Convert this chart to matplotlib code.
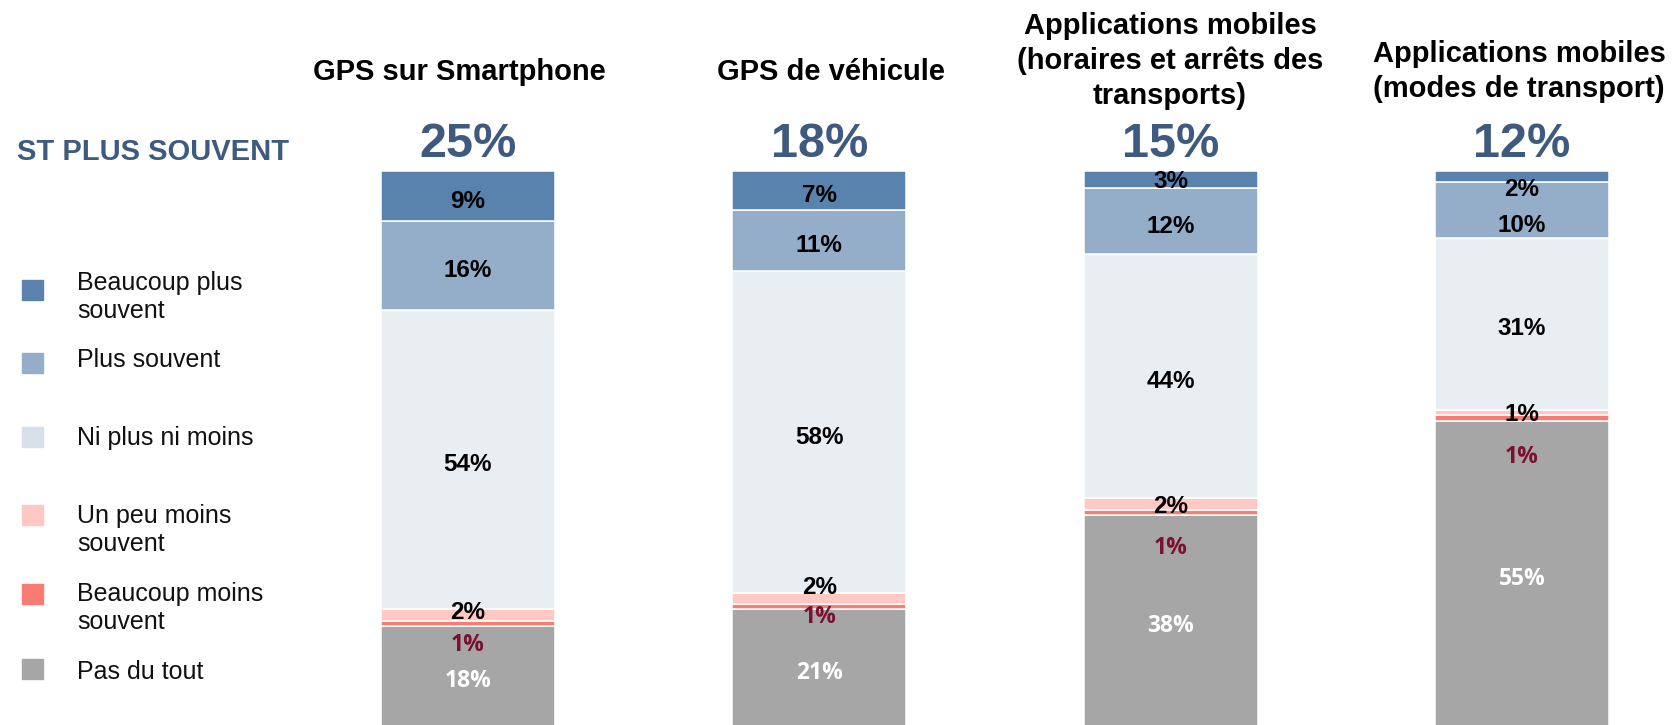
import numpy as np
import matplotlib
matplotlib.use("Agg")
import matplotlib.pyplot as plt
from matplotlib.patches import Rectangle

plt.rcParams['font.family'] = ['Liberation Sans', 'DejaVu Sans']

# data, one list per answer (top of bar first), one value per item
titles = ["GPS sur Smartphone", "GPS de véhicule",
          "Applications mobiles\n(horaires et arrêts des\ntransports)",
          "Applications mobiles\n(modes de transport)"]
totals = ["25%", "18%", "15%", "12%"]
beaucoup_plus = [9, 7, 3, 2]
plus = [16, 11, 12, 10]
ni_plus_ni_moins = [54, 58, 44, 31]
un_peu_moins = [2, 2, 2, 1]
beaucoup_moins = [1, 1, 1, 1]
pas_du_tout = [18, 21, 38, 55]
legend_labels = ["Beaucoup plus\nsouvent", "Plus souvent", "Ni plus ni moins",
                 "Un peu moins\nsouvent", "Beaucoup moins\nsouvent", "Pas du tout"]

W, H = 1672, 725
colors = ['#5983AD', '#94AECA', '#E9EEF3', '#FFC8C3', '#F97B71', '#A6A6A6']
legend_colors = ['#5983AD', '#94AECA', '#D6DFEA', '#FFC8C3', '#F97B71', '#A6A6A6']
label_colors = ['black', 'black', 'black', 'black', '#7B1030', 'white']
head_color = '#3E5A7E'

series = [beaucoup_plus, plus, ni_plus_ni_moins, un_peu_moins, beaucoup_moins, pas_du_tout]

fig = plt.figure(figsize=(W / 100, H / 100), dpi=100)
ax = fig.add_axes([0, 0, 1, 1])
ax.axis('off')

# pixel layout: bar centres at 468 + 351.3*i, 5.55 px per %, bar top at y=171
px_c0, px_step, px_per = 468, 351.3, 5.55
ax.set_xlim(-px_c0 / px_step, (W - px_c0) / px_step)
top_val = 100 + 171 / px_per
bot_val = -(H - (171 + 100 * px_per)) / px_per
ax.set_ylim(bot_val, top_val)


def fy(y):
    return 1 - y / H


def cap_half(pt):
    # half cap height in data units for a font size in points
    return 0.716 * pt * 100 / 72 / 2 / px_per


x = np.arange(len(titles))
# stack from the bottom: gray first
bottom = np.zeros(len(titles))
bottoms = [None] * 6
for k in range(5, -1, -1):
    ax.bar(x, series[k], bottom=bottom, width=0.495, color=colors[k],
           edgecolor='white', linewidth=1.1)
    bottoms[k] = bottom.copy()
    bottom = bottom + np.array(series[k])

# label nudges in pixels (down positive) for crowded thin segments
nudge = {(0, 3): -8, (0, 4): 16,
         (1, 3): -16, (1, 4): 5,
         (2, 0): -3, (2, 3): -3, (2, 4): 30,
         (3, 0): 8, (3, 1): 10, (3, 3): -3, (3, 4): 34}

for i in range(len(titles)):
    for k in range(6):
        v = series[k][i]
        yc = bottoms[k][i] + v / 2 - (3 + nudge.get((i, k), 0)) / px_per
        if k >= 4:
            fs = 16.5
            ax.text(x[i], yc - cap_half(fs), f"{v}%", ha='center', va='baseline',
                    color=label_colors[k], fontsize=fs, fontweight='bold',
                    family=['Open Sans', 'DejaVu Sans'])
        else:
            fs = 17.5
            ax.text(x[i], yc - cap_half(fs), f"{v}%", ha='center', va='baseline',
                    color=label_colors[k], fontsize=fs, fontweight='bold')
    ax.text(x[i], 100 + (171 - 157) / px_per, totals[i], ha='center', va='baseline',
            color=head_color, fontsize=35, fontweight='bold')

# titles above bars (x centre, last-line baseline in px)
title_pos = [(459, 79.5), (831, 79.5), (1170, 104), (1519, 97)]
for t, (tx, ty) in zip(titles, title_pos):
    fig.text(tx / W, fy(ty), t, ha='center', va='baseline', fontsize=21,
             fontweight='bold', color='black', linespacing=1.3,
             multialignment='center')

fig.text(17 / W, fy(160), "ST PLUS SOUVENT", ha='left', va='baseline',
         fontsize=21, fontweight='bold', color=head_color)

# legend (square centre, last-line centre in px)
sq_y = [290, 363, 437, 515, 594, 669]
txt_y = [309, 358, 436, 542, 620, 670]
for lab, c, sy, ty in zip(legend_labels, legend_colors, sq_y, txt_y):
    fig.patches.append(Rectangle((22 / W, fy(sy + 10)), 21 / W, 20 / H,
                                 transform=fig.transFigure, color=c))
    fig.text(77 / W, fy(ty + 9), lab, ha='left', va='baseline', fontsize=18,
             color='#111111', linespacing=1.22)

fig.savefig('out.png', dpi=100)
